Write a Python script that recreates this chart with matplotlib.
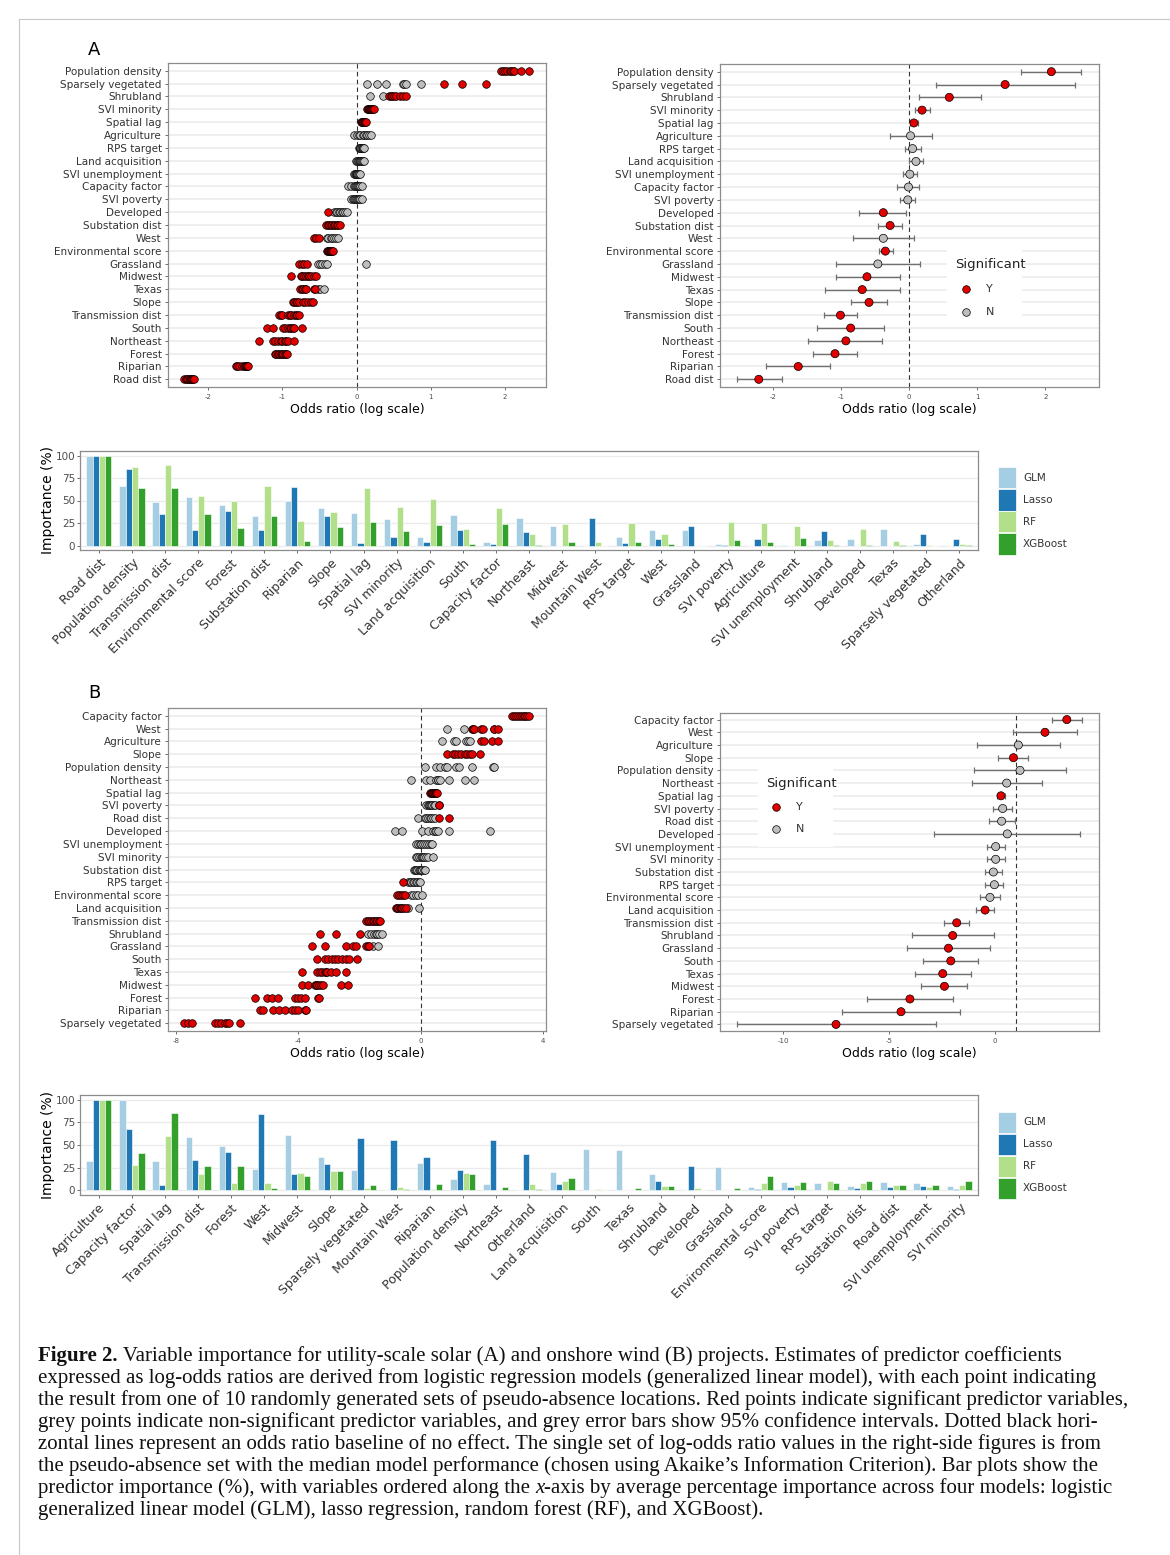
import matplotlib
matplotlib.use("Agg")
import matplotlib.pyplot as plt
from matplotlib.patches import Rectangle
from matplotlib.lines import Line2D
import numpy as np

plt.rcParams["font.family"] = "DejaVu Sans"

RED = "#E00000"
GREY = "#BEBEBE"
MODELS = ["GLM", "Lasso", "RF", "XGBoost"]
MODEL_COLORS = ["#A6CEE3", "#1F78B4", "#B2DF8A", "#33A02C"]

# ---- solar (A): log-odds from the 10 pseudo-absence runs ----
SOLAR_VARS = ["Population density", "Sparsely vegetated", "Shrubland", "SVI minority",
              "Spatial lag", "Agriculture", "RPS target", "Land acquisition",
              "SVI unemployment", "Capacity factor", "SVI poverty", "Developed",
              "Substation dist", "West", "Environmental score", "Grassland", "Midwest",
              "Texas", "Slope", "Transmission dist", "South", "Northeast", "Forest",
              "Riparian", "Road dist"]
SOLAR_RUNS_SIG = [
    [1.95, 1.97, 2.00, 2.03, 2.06, 2.08, 2.10, 2.12, 2.22, 2.32],
    [1.18, 1.42, 1.74],
    [0.44, 0.46, 0.48, 0.50, 0.53, 0.58, 0.62, 0.67],
    [0.14, 0.15, 0.16, 0.17, 0.18, 0.19, 0.20, 0.21, 0.22, 0.23],
    [0.06, 0.07, 0.07, 0.08, 0.09, 0.09, 0.10, 0.11, 0.11, 0.12],
    [], [], [], [], [], [],
    [-0.38],
    [-0.41, -0.39, -0.37, -0.35, -0.33, -0.31, -0.29, -0.27, -0.25, -0.22],
    [-0.57, -0.55, -0.50],
    [-0.40, -0.39, -0.38, -0.37, -0.36, -0.35, -0.34, -0.34, -0.33, -0.32],
    [-0.77, -0.74, -0.71, -0.67],
    [-0.89, -0.75, -0.73, -0.71, -0.68, -0.66, -0.64, -0.61, -0.58, -0.55],
    [-0.76, -0.74, -0.72, -0.70, -0.68, -0.58, -0.56],
    [-0.86, -0.84, -0.82, -0.80, -0.78, -0.72, -0.70, -0.66, -0.62, -0.59],
    [-1.04, -1.02, -1.00, -0.92, -0.90, -0.88, -0.85, -0.82, -0.80, -0.78],
    [-1.21, -1.13, -0.99, -0.97, -0.93, -0.90, -0.88, -0.86, -0.84, -0.74],
    [-1.32, -1.12, -1.10, -1.06, -1.02, -1.00, -0.97, -0.95, -0.93, -0.85],
    [-1.10, -1.08, -1.06, -1.04, -1.02, -1.00, -0.99, -0.97, -0.95, -0.94],
    [-1.63, -1.61, -1.58, -1.55, -1.52, -1.50, -1.49, -1.48, -1.47, -1.46],
    [-2.32, -2.30, -2.28, -2.27, -2.25, -2.24, -2.23, -2.22, -2.21, -2.19],
]
SOLAR_RUNS_NS = [
    [],
    [0.14, 0.28, 0.39, 0.62, 0.64, 0.66, 0.87],
    [0.18, 0.35],
    [], [],
    [-0.04, 0.00, 0.03, 0.05, 0.08, 0.10, 0.12, 0.14, 0.16, 0.19],
    [0.03, 0.04, 0.05, 0.05, 0.06, 0.07, 0.08, 0.08, 0.09, 0.10],
    [-0.01, 0.00, 0.02, 0.03, 0.04, 0.05, 0.06, 0.07, 0.09, 0.10],
    [-0.03, -0.02, -0.01, -0.01, 0.00, 0.00, 0.01, 0.02, 0.03, 0.04],
    [-0.11, -0.07, -0.04, -0.02, -0.01, 0.00, 0.02, 0.03, 0.05, 0.07],
    [-0.07, -0.05, -0.04, -0.02, -0.01, 0.00, 0.02, 0.03, 0.05, 0.07],
    [-0.31, -0.28, -0.26, -0.24, -0.22, -0.20, -0.18, -0.16, -0.13],
    [],
    [-0.40, -0.38, -0.35, -0.33, -0.31, -0.28, -0.25],
    [],
    [-0.52, -0.49, -0.46, -0.43, -0.40, 0.12],
    [],
    [-0.52, -0.49, -0.44],
    [], [], [], [], [], [], [],
]

# median run with 95% CI
SOLAR_EST = [2.09, 1.41, 0.59, 0.19, 0.07, 0.02, 0.05, 0.10, 0.01, -0.01, -0.02, -0.38,
             -0.28, -0.38, -0.35, -0.46, -0.62, -0.69, -0.59, -1.01, -0.86, -0.93, -1.09,
             -1.63, -2.21]
SOLAR_LO = [1.65, 0.39, 0.14, 0.08, 0.01, -0.28, -0.06, 0.00, -0.09, -0.18, -0.13, -0.74,
            -0.46, -0.83, -0.45, -1.07, -1.08, -1.24, -0.85, -1.25, -1.35, -1.48, -1.42,
            -2.11, -2.53]
SOLAR_HI = [2.53, 2.44, 1.05, 0.30, 0.13, 0.33, 0.17, 0.21, 0.11, 0.15, 0.08, -0.04,
            -0.10, 0.07, -0.24, 0.16, -0.14, -0.13, -0.32, -0.77, -0.37, -0.40, -0.76,
            -1.16, -1.87]
SOLAR_SIG = "YYYYYNNNNNNYYNYNYYYYYYYYY"

SOLAR_CATS = ["Road dist", "Population density", "Transmission dist", "Environmental score",
              "Forest", "Substation dist", "Riparian", "Slope", "Spatial lag",
              "SVI minority", "Land acquisition", "South", "Capacity factor", "Northeast",
              "Midwest", "Mountain West", "RPS target", "West", "Grassland", "SVI poverty",
              "Agriculture", "SVI unemployment", "Shrubland", "Developed", "Texas",
              "Sparsely vegetated", "Otherland"]
SOLAR_GLM = [100, 65.7, 48.2, 54.4, 44.9, 32.8, 49.3, 41.2, 35.8, 29.6, 9.1, 33.9, 3.6,
             30.7, 21.9, 0, 9.9, 17.2, 17.5, 2.2, 0, 0.7, 6.2, 7.7, 18.2, 1.8, 0]
SOLAR_LASSO = [100, 84.7, 35.0, 17.5, 38.0, 17.2, 65.0, 33.2, 2.9, 9.9, 3.6, 17.5, 2.2,
               15.3, 0, 31.0, 2.9, 7.3, 21.9, 0.3, 7.3, 0, 16.4, 0, 0, 13.1, 6.9]
SOLAR_RF = [100, 87.6, 89.0, 55.5, 50.0, 65.7, 27.7, 37.2, 63.9, 42.7, 51.5, 17.9, 42.0,
            13.1, 24.1, 4.4, 24.8, 13.1, 0, 26.6, 25.2, 21.9, 6.6, 17.9, 4.7, 0.4, 2.2]
SOLAR_XGB = [100, 64.2, 63.9, 35.0, 19.0, 33.2, 4.7, 20.8, 25.9, 16.1, 22.6, 1.8, 24.1,
             1.1, 3.6, 0, 4.0, 1.5, 0, 6.6, 3.6, 8.4, 1.1, 0.3, 0.5, 0, 0.6]

# ---- wind (B) ----
WIND_VARS = ["Capacity factor", "West", "Agriculture", "Slope", "Population density",
             "Northeast", "Spatial lag", "SVI poverty", "Road dist", "Developed",
             "SVI unemployment", "SVI minority", "Substation dist", "RPS target",
             "Environmental score", "Land acquisition", "Transmission dist", "Shrubland",
             "Grassland", "South", "Texas", "Midwest", "Forest", "Riparian",
             "Sparsely vegetated"]
WIND_RUNS_SIG = [
    [2.99, 3.05, 3.12, 3.18, 3.24, 3.30, 3.36, 3.42, 3.48, 3.55],
    [1.68, 1.70, 1.74, 1.98, 2.03, 2.38, 2.40, 2.52],
    [1.95, 2.05, 2.33, 2.52],
    [0.86, 1.05, 1.12, 1.20, 1.30, 1.45, 1.52, 1.60, 1.66, 1.92],
    [], [],
    [0.29, 0.32, 0.35, 0.38, 0.40, 0.43, 0.46, 0.48, 0.51, 0.54],
    [0.58, 0.60],
    [0.59, 0.92],
    [], [], [], [],
    [-0.58],
    [-0.79, -0.72, -0.66, -0.59, -0.52],
    [-0.82, -0.78, -0.73, -0.68, -0.64, -0.60, -0.55, -0.50],
    [-1.79, -1.74, -1.68, -1.62, -1.57, -1.52, -1.47, -1.42, -1.38, -1.34],
    [-3.29, -2.78, -1.99],
    [-3.57, -3.13, -2.46, -2.21, -2.12, -1.79, -1.72, -1.68],
    [-3.40, -3.13, -3.02, -2.90, -2.80, -2.70, -2.58, -2.46, -2.34, -2.08],
    [-3.87, -3.38, -3.30, -3.22, -3.14, -3.10, -3.05, -2.95, -2.77, -2.46],
    [-3.87, -3.67, -3.46, -3.42, -3.38, -3.32, -3.25, -3.18, -2.61, -2.37],
    [-5.43, -5.03, -4.85, -4.68, -4.11, -4.00, -3.90, -3.78, -3.36, -3.33],
    [-5.27, -5.16, -4.82, -4.62, -4.43, -4.22, -4.11, -4.00, -3.80, -3.76],
    [-7.73, -7.60, -7.48, -6.72, -6.62, -6.52, -6.40, -6.32, -6.28, -5.90],
]
WIND_RUNS_NS = [
    [],
    [0.84, 1.41],
    [0.70, 1.09, 1.16, 1.47, 1.54, 1.60],
    [],
    [0.15, 0.49, 0.62, 0.78, 0.84, 1.16, 1.24, 1.67, 2.36, 2.39],
    [-0.33, 0.18, 0.29, 0.51, 0.55, 0.57, 0.62, 0.92, 1.43, 1.74],
    [],
    [0.18, 0.22, 0.26, 0.30, 0.34, 0.38, 0.42, 0.46],
    [-0.09, 0.13, 0.18, 0.24, 0.29, 0.33, 0.40, 0.46],
    [-0.85, -0.60, 0.05, 0.24, 0.40, 0.46, 0.50, 0.57, 0.92, 2.25],
    [-0.16, -0.10, -0.04, 0.02, 0.08, 0.14, 0.20, 0.26, 0.32, 0.38],
    [-0.16, -0.12, -0.06, 0.00, 0.04, 0.08, 0.12, 0.16, 0.24, 0.40],
    [-0.23, -0.19, -0.15, -0.11, -0.07, -0.03, 0.01, 0.05, 0.09, 0.13],
    [-0.41, -0.36, -0.31, -0.26, -0.21, -0.16, -0.11, -0.06, -0.03],
    [-0.33, -0.25, -0.17, -0.08, 0.04],
    [-0.43, -0.05],
    [],
    [-1.72, -1.62, -1.52, -1.48, -1.42, -1.35, -1.26],
    [-1.55, -1.41],
    [], [], [], [], [], [],
]

WIND_EST = [3.39, 2.36, 1.10, 0.87, 1.18, 0.55, 0.28, 0.36, 0.31, 0.58, 0.03, 0.03, -0.08,
            -0.03, -0.24, -0.47, -1.81, -2.00, -2.20, -2.09, -2.47, -2.39, -4.02, -4.44,
            -7.51]
WIND_LO = [2.71, 0.87, -0.87, 0.16, -0.98, -1.07, 0.11, -0.08, -0.28, -2.87, -0.39, -0.39,
           -0.47, -0.47, -0.71, -0.91, -2.41, -3.94, -4.17, -3.39, -3.78, -3.50, -6.03,
           -7.24, -12.17]
WIND_HI = [4.09, 3.89, 3.07, 1.57, 3.35, 2.20, 0.47, 0.79, 0.94, 4.02, 0.47, 0.47, 0.35,
           0.39, 0.24, -0.03, -1.21, -0.05, -0.24, -0.79, -1.15, -1.31, -2.00, -1.65,
           -2.80]
WIND_SIG = "YYNYNNYNNNNNNNNYYYYYYYYYY"

WIND_CATS = ["Agriculture", "Capacity factor", "Spatial lag", "Transmission dist", "Forest",
             "West", "Midwest", "Slope", "Sparsely vegetated", "Mountain West", "Riparian",
             "Population density", "Northeast", "Otherland", "Land acquisition", "South",
             "Texas", "Shrubland", "Developed", "Grassland", "Environmental score",
             "SVI poverty", "RPS target", "Substation dist", "Road dist",
             "SVI unemployment", "SVI minority"]
WIND_GLM = [32.8, 100, 32.8, 58.8, 49.3, 23.4, 60.6, 36.9, 22.6, 0, 30.7, 12.8, 7.3, 0,
            20.0, 45.6, 44.2, 18.2, 0, 25.5, 4.0, 8.8, 8.4, 5.1, 8.8, 7.7, 4.4]
WIND_LASSO = [100, 67.9, 5.5, 33.6, 42.3, 84.3, 18.2, 29.2, 57.3, 55.8, 37.2, 22.6, 55.8,
              40.5, 6.6, 0.7, 0, 10.2, 27.4, 0, 1.5, 4.0, 0, 2.2, 3.3, 5.1, 1.1]
WIND_RF = [100, 28.1, 60.2, 18.6, 7.7, 7.7, 19.7, 21.2, 2.6, 3.3, 1.8, 19.0, 0.7, 6.6,
           10.6, 1.8, 0.1, 4.4, 2.2, 0, 7.7, 5.8, 10.9, 7.7, 5.5, 3.6, 5.8]
WIND_XGB = [100, 40.9, 85.0, 26.6, 26.6, 2.9, 16.4, 21.9, 5.5, 1.8, 6.6, 18.6, 3.6, 1.5,
            13.9, 0.7, 2.2, 5.1, 0, 2.6, 15.7, 9.1, 7.7, 10.9, 5.8, 5.8, 10.6]

CAPTION = [
    [("Figure 2.", "bold", "normal"),
     (" Variable importance for utility-scale solar (A) and onshore wind (B) projects. "
      "Estimates of predictor coefficients", "normal", "normal")],
    [("expressed as log-odds ratios are derived from logistic regression models (generalized "
      "linear model), with each point indicating", "normal", "normal")],
    [("the result from one of 10 randomly generated sets of pseudo-absence locations. Red "
      "points indicate significant predictor variables,", "normal", "normal")],
    [("grey points indicate non-significant predictor variables, and grey error bars show 95% "
      "confidence intervals. Dotted black hori-", "normal", "normal")],
    [("zontal lines represent an odds ratio baseline of no effect. The single set of log-odds "
      "ratio values in the right-side figures is from", "normal", "normal")],
    [("the pseudo-absence set with the median model performance (chosen using Akaike\u2019s "
      "Information Criterion). Bar plots show the", "normal", "normal")],
    [("predictor importance (%), with variables ordered along the ", "normal", "normal"),
     ("x", "normal", "italic"),
     ("-axis by average percentage importance across four models: logistic", "normal", "normal")],
    [("generalized linear model (GLM), lasso regression, random forest (RF), and XGBoost).",
      "normal", "normal")],
]

W, H = 1170, 1555
fig = plt.figure(figsize=(W / 100, H / 100), dpi=100)


def add_ax(x0, y0, x1, y1):
    return fig.add_axes([x0 / W, 1 - y1 / H, (x1 - x0) / W, (y1 - y0) / H])


def put_text(x, y, s, **kw):
    return fig.text(x / W, 1 - y / H, s, **kw)


def style_frame(ax):
    for sp in ax.spines.values():
        sp.set_color("#8c8c8c")
        sp.set_linewidth(0.9)
    ax.tick_params(length=2.5, width=0.6, color="#555555")


def dot_axis(ax, names, xlim, xticks, pad=0.6):
    n = len(names)
    ax.set_xlim(*xlim)
    ax.set_ylim(1 - pad, n + pad)
    ax.set_yticks(range(n, 0, -1))
    ax.set_yticklabels(names, fontsize=7.5, color="#333333")
    ax.set_xticks(xticks)
    ax.set_xticklabels([str(t) for t in xticks], fontsize=5, color="#4d4d4d")
    ax.grid(axis="y", color="#EBEBEB", lw=1.1)
    ax.set_axisbelow(True)
    style_frame(ax)
    ax.tick_params(axis="y", pad=2)
    ax.tick_params(axis="x", pad=2.5)


def strip_panel(ax, names, sig_runs, ns_runs, xlim, xticks):
    n = len(names)
    ax.axvline(0, color="#333333", lw=0.8, ls=(0, (4, 3)), zorder=1)
    for i in range(n):
        y = n - i
        ax.scatter(ns_runs[i], [y] * len(ns_runs[i]), s=30, c=GREY, edgecolors="black",
                   linewidths=0.5, zorder=3)
        ax.scatter(sig_runs[i], [y] * len(sig_runs[i]), s=30, c=RED, edgecolors="black",
                   linewidths=0.5, zorder=3)
    dot_axis(ax, names, xlim, xticks)


def ci_panel(ax, names, est, lo, hi, sig, xlim, xticks, baseline=0.0, pad=0.6):
    n = len(names)
    y = np.arange(n, 0, -1)
    est = np.array(est)
    ax.axvline(baseline, color="#333333", lw=0.8, ls=(0, (4, 3)), zorder=1)
    ax.errorbar(est, y, xerr=[est - np.array(lo), np.array(hi) - est], fmt="none",
                ecolor="#707070", elinewidth=1.0, capsize=2.3, capthick=0.9, zorder=2)
    cols = [RED if s == "Y" else GREY for s in sig]
    ax.scatter(est, y, s=34, c=cols, edgecolors="black", linewidths=0.5, zorder=3)
    dot_axis(ax, names, xlim, xticks, pad)


def sig_legend(ax, box, title_xy, mark_x, text_x, y_rows):
    x0, y0, x1, y1 = box
    ax.add_patch(Rectangle((x0, y0), x1 - x0, y1 - y0, transform=ax.transAxes,
                           facecolor="white", edgecolor="none", zorder=1.5))
    ax.text(title_xy[0], title_xy[1], "Significant", transform=ax.transAxes,
            fontsize=9.5, color="#222222", va="center", ha="left", zorder=4)
    for lab, col, yy in zip(["Y", "N"], [RED, GREY], y_rows):
        ax.scatter([mark_x], [yy], s=30, c=col, edgecolors="black", linewidths=0.5,
                   transform=ax.transAxes, zorder=4, clip_on=False)
        ax.text(text_x, yy, lab, transform=ax.transAxes, fontsize=8, color="#333333",
                va="center", ha="left", zorder=4)


def bar_panel(ax, cats, series):
    x = np.arange(len(cats))
    w = 0.19
    for k, (vals, col) in enumerate(zip(series, MODEL_COLORS)):
        ax.bar(x + (k - 1.5) * w, vals, width=w, color=col, edgecolor="white",
               linewidth=0.4, zorder=2)
    ax.set_xlim(-0.57, len(cats) - 0.43)
    ax.set_ylim(-5, 105)
    ax.set_yticks([0, 25, 50, 75, 100])
    ax.set_yticklabels(["0", "25", "50", "75", "100"], fontsize=7.5, color="#4d4d4d")
    ax.set_xticks(x)
    ax.set_xticklabels(cats, rotation=45, ha="right", rotation_mode="anchor",
                       fontsize=9, color="#333333")
    ax.grid(axis="y", color="#EBEBEB", lw=1.0)
    ax.set_axisbelow(True)
    style_frame(ax)
    ax.tick_params(axis="y", pad=1)
    ax.tick_params(axis="x", pad=2)


def bar_legend(y_centers):
    for lab, col, yc in zip(MODELS, MODEL_COLORS, y_centers):
        fig.add_artist(Rectangle((998 / W, 1 - (yc + 10.5) / H), 18 / W, 21 / H,
                                 transform=fig.transFigure, facecolor=col,
                                 edgecolor="white", lw=0.5))
        put_text(1023, yc, lab, fontsize=7.5, color="#333333", va="center", ha="left")


# ---- panel A ----
put_text(88, 50, "A", fontsize=13, va="center", ha="left")
ax = add_ax(168, 63, 546, 387)
strip_panel(ax, SOLAR_VARS, SOLAR_RUNS_SIG, SOLAR_RUNS_NS, (-2.54, 2.55), [-2, -1, 0, 1, 2])
put_text(357, 409, "Odds ratio (log scale)", fontsize=9, va="center", ha="center")

ax = add_ax(720, 64, 1099, 387)
ci_panel(ax, SOLAR_VARS, SOLAR_EST, SOLAR_LO, SOLAR_HI, SOLAR_SIG, (-2.78, 2.79),
         [-2, -1, 0, 1, 2])
sig_legend(ax, (0.60, 0.186, 0.797, 0.433), (0.621, 0.378), 0.649, 0.701, (0.303, 0.232))
put_text(909, 410, "Odds ratio (log scale)", fontsize=9, va="center", ha="center")

ax = add_ax(80, 451, 978, 550)
bar_panel(ax, SOLAR_CATS, [SOLAR_GLM, SOLAR_LASSO, SOLAR_RF, SOLAR_XGB])
put_text(48, 500, "Importance (%)", fontsize=10, rotation=90, va="center", ha="center")
bar_legend([477.7, 500, 521.7, 544])

# ---- panel B ----
put_text(88, 693, "B", fontsize=13, va="center", ha="left")
ax = add_ax(168, 708, 546, 1031)
strip_panel(ax, WIND_VARS, WIND_RUNS_SIG, WIND_RUNS_NS, (-8.26, 4.09), [-8, -4, 0, 4])
put_text(357, 1054, "Odds ratio (log scale)", fontsize=9, va="center", ha="center")

ax = add_ax(720, 713, 1099, 1031)
ci_panel(ax, WIND_VARS, WIND_EST, WIND_LO, WIND_HI, WIND_SIG, (-12.99, 4.91),
         [-10, -5, 0], baseline=1.0, pad=0.52)
sig_legend(ax, (0.100, 0.578, 0.298, 0.826), (0.121, 0.778), 0.148, 0.200, (0.704, 0.635))
put_text(909, 1054, "Odds ratio (log scale)", fontsize=9, va="center", ha="center")

ax = add_ax(80, 1095, 978, 1195)
bar_panel(ax, WIND_CATS, [WIND_GLM, WIND_LASSO, WIND_RF, WIND_XGB])
put_text(48, 1145, "Importance (%)", fontsize=10, rotation=90, va="center", ha="center")
bar_legend([1122, 1144, 1166, 1188])

# ---- outer frame ----
fig.add_artist(Line2D([19 / W, 19 / W], [0, 1 - 19 / H], transform=fig.transFigure,
                      color="#c8c8c8", lw=0.8))
fig.add_artist(Line2D([19 / W, 1], [1 - 19 / H, 1 - 19 / H], transform=fig.transFigure,
                      color="#c8c8c8", lw=0.8))

# ---- caption, drawn run by run so bold/italic pieces sit inline ----
renderer = fig.canvas.get_renderer()
for li, runs in enumerate(CAPTION):
    x = 38
    y = 1361 + li * 22
    for s, weight, style in runs:
        t = put_text(x, y, s, fontsize=15, family="Liberation Serif", weight=weight,
                     style=style, va="baseline", ha="left", color="#111111")
        x += t.get_window_extent(renderer).width

fig.savefig("out.png", dpi=100)
